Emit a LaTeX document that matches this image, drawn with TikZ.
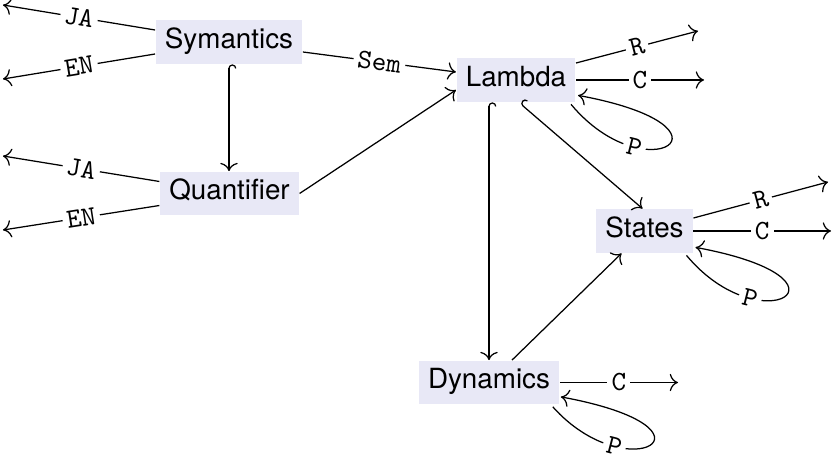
\documentclass[tikz,border=0pt]{standalone}
\usepackage{fontspec}
\setmainfont{TeX Gyre Heros}
\usetikzlibrary{arrows.meta,calc}
\definecolor{boxfill}{RGB}{232,232,246}
\begin{document}
\begin{tikzpicture}[x=0.36pt,y=-0.36pt, line width=0.45pt,
  obj/.style={fill=boxfill, inner sep=3.33pt, text height=6.8pt, text depth=2.2pt, font=\fontsize{10}{12}\selectfont},
  lbl/.style={fill=white, inner sep=1.5pt, font=\ttfamily\fontsize{10}{12}\selectfont, sloped},
  arr/.style={-{To[scale=1.15]}},
  hookarr/.style={{Hooks[right,scale=1.1]}-{To[scale=1.15]}},
]
\useasboundingbox (0,0) rectangle (833,460);
\node[obj] (S) at (229,42) {Symantics};
\node[obj] (Q) at (229.5,193.5) {Quantifier};
\node[obj] (L) at (516,80) {Lambda};
\node[obj] (St) at (644.5,231) {States};
\node[obj] (D) at (489,382.5) {Dynamics};

\coordinate (sja) at (3,5);
\coordinate (sen) at (3,79);
\coordinate (qja) at (3,156);
\coordinate (qen) at (3,230);
\coordinate (lr) at (698,31);
\coordinate (lc) at (704,80);
\coordinate (str) at (828,182);
\coordinate (stc) at (831,231);
\coordinate (dc) at (678,382.5);

\draw[arr] ($(S.west)+(0,-12)$) -- node[lbl]{JA} (sja);
\draw[arr] ($(S.west)+(0,12)$) -- node[lbl]{EN} (sen);
\draw[arr] ($(S.east)+(0,10)$) -- node[lbl]{Sem} ($(L.west)+(0,-8)$);
\draw[hookarr] (S.south) -- (S.south |- Q.north);

\draw[arr] ($(Q.west)+(0,-12)$) -- node[lbl]{JA} (qja);
\draw[arr] ($(Q.west)+(0,12)$) -- node[lbl]{EN} (qen);
\draw[arr] (Q.east) -- ($(L.west)+(0,10)$);

\draw[arr] ($(L.east)+(0,-17)$) -- node[lbl]{R} (lr);
\draw[arr] (L.east) -- node[lbl]{C} (lc);
\draw[arr] ($(L.south east)+(-5,2)$) .. controls +(75,90) and +(173,32) .. node[lbl,pos=0.28]{P} ($(L.south east)+(2,-7)$);
\draw[hookarr] (D.north |- L.south) -- (D.north);
\draw[hookarr] ($(L.south)+(4,1)$) -- ($(St.north)+(-2,0)$);

\draw[arr] ($(St.east)+(0,-13)$) -- node[lbl]{R} (str);
\draw[arr] (St.east) -- node[lbl]{C} (stc);
\draw[arr] ($(St.south east)+(-7,2)$) .. controls +(75,90) and +(173,32) .. node[lbl,pos=0.28]{P} ($(St.south east)+(2,-6)$);

\draw[arr] (D) -- (St);
\draw[arr] (D.east) -- node[lbl]{C} (dc);
\draw[arr] ($(D.south east)+(-7,2)$) .. controls +(75,84) and +(173,32) .. node[lbl,pos=0.27]{P} ($(D.south east)+(1,-8)$);
\end{tikzpicture}
\end{document}
